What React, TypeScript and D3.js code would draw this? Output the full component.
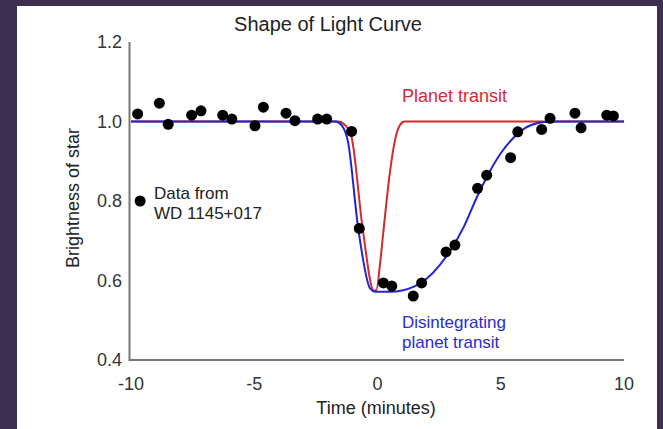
import React from "react";
import * as d3 from "d3";

const dataT = [-9.73, -8.85, -8.49, -7.54, -7.16, -6.28, -5.91, -4.97, -4.63, -3.71, -3.35, -2.43, -2.06, -1.05, -0.74, 0.24, 0.58, 1.45, 1.79, 2.78, 3.14, 4.06, 4.43, 5.40, 5.69, 6.66, 7.0, 8.01, 8.26, 9.30, 9.57];
const dataV = [1.019, 1.046, 0.993, 1.016, 1.027, 1.016, 1.006, 0.989, 1.036, 1.021, 1.002, 1.006, 1.006, 0.975, 0.731, 0.594, 0.586, 0.561, 0.594, 0.672, 0.689, 0.832, 0.865, 0.909, 0.974, 0.980, 1.008, 1.021, 0.984, 1.016, 1.014];

const planetT = [-10, -1.6, -1.3, -1.05, -0.6, -0.15, -0.05, 0.1, 0.25, 0.5, 0.7, 0.9, 1.1, 10];
const planetV = [1.0, 1.0, 0.99, 0.96, 0.73, 0.575, 0.575, 0.64, 0.73, 0.87, 0.95, 0.99, 1.0, 1.0];

const disT = [-10, -1.7, -1.45, -1.2, -0.78, -0.3, -0.1, 0.5, 1.0, 1.5, 2.0, 2.5, 3.0, 3.5, 4.0, 4.5, 5.0, 5.5, 6.0, 6.5, 7.0, 10];
const disV = [1.0, 1.0, 0.99, 0.95, 0.73, 0.58, 0.572, 0.572, 0.575, 0.585, 0.605, 0.637, 0.68, 0.735, 0.805, 0.868, 0.92, 0.958, 0.984, 0.996, 1.0, 1.0];

const xTicks = [-10, -5, 0, 5, 10];
const yTicks = [0.4, 0.6, 0.8, 1.0, 1.2];

const W = 663;
const H = 429;
const FONT = "'Liberation Sans', Arial, Helvetica, sans-serif";

export default function App() {
  const x = d3.scaleLinear().domain([-10, 10]).range([131, 624]);
  const y = d3.scaleLinear().domain([0.4, 1.2]).range([360, 42]);

  const line = d3
    .line<[number, number]>()
    .x((d) => x(d[0]))
    .y((d) => y(d[1]))
    .curve(d3.curveMonotoneX);

  const planetPts = planetT.map((t, i) => [t, planetV[i]] as [number, number]);
  const disPts = disT.map((t, i) => [t, disV[i]] as [number, number]);

  return (
    <div style={{ position: "fixed", left: 0, top: 0, width: W, height: H }}>
      <svg width={W} height={H} style={{ display: "block" }} fontFamily={FONT}>
        <rect x={0} y={0} width={W} height={H} fill="#3d2f52" />
        <rect x={17} y={6} width={640} height={H - 6} fill="#ffffff" />

        <text x={328} y={31} textAnchor="middle" fontSize={20} fill="#222">
          Shape of Light Curve
        </text>

        {/* axes */}
        <line x1={129.5} x2={129.5} y1={y(1.2)} y2={y(0.4) + 1} stroke="#777" strokeWidth={2} />
        <line x1={129} x2={x(10)} y1={y(0.4)} y2={y(0.4)} stroke="#777" strokeWidth={2} />

        {yTicks.map((v) => (
          <text key={v} x={122} y={y(v)} dy="0.35em" textAnchor="end" fontSize={18} fill="#333">
            {v.toFixed(1)}
          </text>
        ))}
        {xTicks.map((t) => (
          <text key={t} x={x(t)} y={390} textAnchor="middle" fontSize={18} fill="#333">
            {t < 0 ? "-" + Math.abs(t) : String(t)}
          </text>
        ))}

        <text x={376} y={414} textAnchor="middle" fontSize={18} fill="#222">
          Time (minutes)
        </text>
        <text
          transform={`translate(79,198) rotate(-90)`}
          textAnchor="middle"
          fontSize={18}
          fill="#222"
        >
          Brightness of star
        </text>

        {/* curves */}
        <path d={line(planetPts) || ""} fill="none" stroke="#d42a2a" strokeWidth={2} />
        <path d={line(disPts) || ""} fill="none" stroke="#2323d2" strokeWidth={2} />

        {dataT.map((t, i) => (
          <circle key={i} cx={x(t)} cy={y(dataV[i])} r={5.5} fill="#000" />
        ))}

        {/* legend */}
        <circle cx={x(-9.63)} cy={y(0.8)} r={5.5} fill="#000" />
        <text x={154} y={199} fontSize={17} fill="#222">Data from</text>
        <text x={154} y={219} fontSize={17} fill="#222">WD 1145+017</text>

        <text x={402} y={102} fontSize={18} fill="#d42a3a">Planet transit</text>
        <text x={402} y={328} fontSize={17} fill="#2a2ad2">Disintegrating</text>
        <text x={402} y={348} fontSize={17} fill="#2a2ad2">planet transit</text>
      </svg>
    </div>
  );
}
